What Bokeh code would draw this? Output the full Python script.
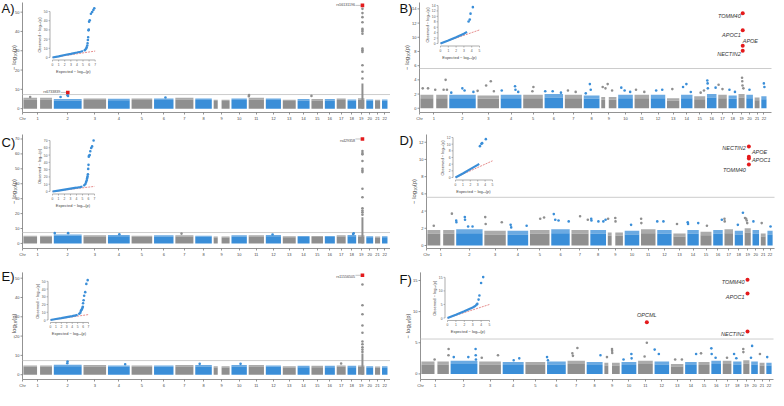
import math
from bokeh.plotting import figure
from bokeh.layouts import column, row
from bokeh.models import Range1d, FixedTicker
from bokeh.embed import file_html
from bokeh.resources import INLINE
from bokeh.core.properties import value

FONT = "Liberation Sans"
GRAY = "#8f8f8f"
BLUE = "#3a8ed8"
RED = "#e41a1c"
AXC = "#777777"

# ---------------- data ----------------
CHROM_NAMES = [str(i) for i in range(1, 23)]
CHR_LEN = [249, 243, 198, 191, 181, 171, 159, 146, 141, 136, 135, 134,
           115, 107, 103, 90, 81, 78, 59, 63, 48, 51]          # Mb
CENTROMERE_GAP = {1: (121, 143), 9: (39, 68)}
GAP = 12

# dense-mass height per chromosome
A_MASS = [5.6, 5.0, 5.3, 5.1, 5.2, 5.3, 5.6, 5.2, 4.6, 5.3, 5.6, 5.2, 4.6, 5.0, 5.0, 5.0, 5.2, 4.8, 5.4, 4.8, 4.6, 4.8]
B_MASS = [1.9, 1.9, 1.8, 1.9, 1.9, 2.0, 1.9, 1.8, 1.6, 1.9, 1.9, 1.9, 1.4, 1.9, 1.7, 2.0, 1.9, 1.8, 2.0, 1.9, 1.5, 1.7]
C_MASS = [5.2, 6.0, 5.4, 5.6, 5.2, 5.4, 5.4, 5.2, 4.6, 5.4, 5.4, 5.6, 4.8, 5.0, 5.0, 5.0, 5.4, 5.6, 5.4, 4.8, 4.6, 4.8]
D_MASS = [1.8, 1.9, 1.7, 1.7, 1.8, 1.9, 1.8, 1.8, 1.5, 1.7, 1.9, 1.8, 1.4, 1.8, 1.6, 1.8, 1.9, 1.7, 2.0, 1.8, 1.4, 1.7]
E_MASS = [4.8, 5.2, 5.0, 4.8, 4.8, 4.8, 5.0, 5.0, 4.4, 5.0, 5.0, 4.8, 4.4, 4.6, 4.6, 4.6, 4.8, 4.6, 4.8, 4.4, 4.2, 4.4]
F_MASS = [2.0, 2.1, 2.0, 1.9, 1.9, 2.0, 2.1, 1.9, 1.8, 1.9, 2.1, 2.0, 1.6, 1.9, 1.9, 2.1, 2.1, 2.0, 2.2, 2.0, 1.8, 1.8]

# scattered points above the mass: (chromosome, position Mb, -log10 p)
A_PEAKS = [(2, 120, 7.0), (2, 124, 6.6), (2, 60, 6.0), (11, 5, 7.0), (11, 3, 6.4), (15, 2, 6.6), (1, 60, 6.0), (6, 100, 5.8)]
C_PEAKS = [(2, 10, 6.9), (2, 125, 6.9), (4, 100, 6.2), (7, 55, 6.6), (18, 50, 6.3), (18, 55, 6.8), (12, 60, 6.0)]
E_PEAKS = [(2, 120, 6.8), (2, 118, 5.9), (17, 40, 5.8), (10, 80, 5.6), (8, 40, 5.6), (4, 150, 5.4)]
B_PEAKS = [(1, 23, 2.8), (1, 71, 2.8), (1, 136, 2.6), (1, 212, 2.6), (1, 230, 4.0), (1, 242, 2.6),
           (2, 20, 2.2), (2, 120, 2.8), (2, 140, 2.5), (2, 220, 2.3),
           (3, 3, 2.45), (3, 80, 3.2), (3, 122, 3.8), (3, 150, 2.4),
           (4, 11, 2.5), (4, 131, 3.1), (4, 135, 2.6), (4, 160, 2.3),
           (5, 85, 2.4), (5, 94, 3.0), (6, 8, 2.4), (6, 75, 2.4), (6, 150, 2.2),
           (7, 30, 2.5), (7, 100, 2.3), (8, 20, 2.1), (8, 57, 3.4), (8, 65, 2.6),
           (9, 15, 3.0), (9, 40, 2.8), (9, 60, 3.4), (9, 100, 2.5),
           (10, 30, 2.9), (10, 60, 2.5), (10, 110, 2.3), (11, 15, 2.6), (11, 90, 2.3),
           (12, 50, 2.5), (12, 105, 2.6), (13, 50, 2.7), (14, 20, 3.0), (14, 50, 3.4), (14, 90, 2.3),
           (15, 60, 2.2), (15, 90, 2.5), (16, 5, 3.9), (16, 8, 3.5), (16, 10, 2.8), (16, 80, 2.9),
           (17, 5, 3.3), (17, 40, 2.7), (18, 10, 2.6), (18, 60, 2.3),
           (19, 34, 4.3), (19, 36, 3.8), (19, 38, 3.2), (19, 46, 2.8), (20, 30, 2.6), (22, 25, 3.5), (22, 30, 3.0)]
D_PEAKS = [(1, 60, 2.3), (1, 224, 3.7), (2, 2, 2.9), (2, 4, 2.7), (2, 80, 3.3), (2, 82, 3.0), (2, 110, 2.2), (2, 150, 2.2),
           (3, 10, 3.3), (3, 14, 2.5), (3, 160, 2.7), (4, 30, 2.4), (4, 35, 2.1), (4, 175, 2.3),
           (5, 95, 3.1), (5, 130, 3.25), (6, 25, 3.65), (6, 38, 3.0), (6, 68, 2.9), (6, 160, 2.8),
           (7, 80, 3.4), (7, 150, 3.0), (8, 10, 3.1), (8, 12, 2.9), (8, 75, 2.8), (8, 120, 2.8), (8, 140, 3.0),
           (9, 5, 3.1), (9, 70, 3.2), (9, 72, 2.8), (10, 60, 2.4), (11, 3, 3.1), (11, 5, 2.6),
           (12, 2, 2.8), (12, 58, 2.8), (13, 35, 2.5), (14, 5, 2.7), (14, 8, 2.5), (14, 100, 2.6),
           (15, 60, 2.3), (16, 80, 3.0), (17, 2, 3.1), (17, 4, 2.8), (18, 30, 2.4), (18, 76, 3.8),
           (19, 5, 3.2), (19, 15, 3.1), (19, 20, 2.9), (19, 25, 2.6), (20, 10, 2.8), (21, 10, 2.6), (22, 30, 2.2)]
F_PEAKS = [(1, 245, 4.0), (1, 244, 3.0), (1, 120, 2.3), (2, 30, 2.7), (2, 160, 2.7), (2, 225, 4.0), (2, 226, 3.0), (2, 228, 2.3),
           (3, 25, 2.6), (3, 170, 3.0), (4, 100, 2.2), (4, 150, 2.5), (6, 2, 2.7), (6, 10, 2.2),
           (7, 45, 3.3), (7, 50, 2.9), (7, 90, 4.15), (8, 125, 3.0),
           (9, 25, 2.7), (9, 70, 4.0), (9, 71, 3.7), (9, 72, 3.35), (10, 20, 2.3), (10, 90, 3.2), (10, 92, 2.5),
           (11, 80, 5.0), (11, 60, 2.8), (12, 3, 3.9), (12, 40, 3.2), (13, 40, 2.3), (13, 100, 2.3),
           (14, 100, 3.2), (15, 25, 3.3), (16, 2, 4.1), (16, 5, 3.2), (16, 40, 2.6), (17, 40, 2.6),
           (18, 10, 3.2), (18, 30, 2.5), (19, 2, 4.0), (19, 3, 3.5), (20, 0, 2.6), (20, 10, 4.5), (21, 5, 3.2), (22, 10, 2.7)]

# chr19 (APOE region) column of SNPs in A, C, E
A_STACK = [51.7, 49.5, 47.4, 44.8, 41.4, 40.7, 40.0, 38.8, 31.1, 30.3, 29.4, 22.5, 19.1, 15.6]
A_STACK_TOP = 13.0
C_STACK = [61.9, 60.6, 59.7, 55.2, 50.0, 48.9, 47.8, 36.6, 31.0, 23.6, 22.0, 20.9, 19.3]
C_STACK_TOP = 17.5
E_STACK = [46.7, 36.0, 31.3, 25.5, 21.7, 17.2, 15.8, 14.2, 13.0, 11.8]
E_STACK_TOP = 11.0

# highlighted hits: (chromosome, position Mb, -log10 p, label)
A_HITS = [(19, 40, 53.5, "rs56131196"), (2, 122, 8.4, "rs6733839")]
C_HITS = [(19, 40, 70.0, "rs429358")]
E_HITS = [(19, 40, 51.5, "rs11556505")]
B_HITS = [(19, 40, 13.4, "TOMM40"), (19, 40, 11.0, "APOC1"), (19, 40, 8.8, "APOE"), (19, 40, 8.1, "NECTIN2")]
D_HITS = [(19, 40, 11.5, "NECTIN2"), (19, 40, 10.3, "APOE"), (19, 40, 10.1, "APOC1"), (19, 40, 9.4, "TOMM40")]
F_HITS = [(19, 40, 15.1, "TOMM40"), (19, 40, 12.9, "APOC1"), (11, 80, 8.3, "OPCML"), (19, 40, 6.8, "NECTIN2")]

A_YTICKS = [0, 10, 20, 30, 40, 50]
B_YTICKS = [0, 2, 4, 6, 8, 10, 12, 14]
C_YTICKS = [0, 10, 20, 30, 40, 50, 60, 70]
D_YTICKS = [0, 2, 4, 6, 8, 10, 12]
E_YTICKS = [0, 10, 20, 30, 40, 50]
F_YTICKS = [0, 5, 10, 15]
SNP_THRESHOLD = 7.3
GENE_THRESHOLD = 5.6

# QQ insets: expected vs observed -log10 p
A_QQ_BODY_X = [0, 1, 2, 3, 4, 4.6, 5.0]
A_QQ_BODY_Y = [0, 1.3, 2.7, 4.0, 5.4, 6.3, 7.0]
A_QQ_TAIL_X = [5.3, 5.5, 5.6, 5.7, 5.75, 5.8, 5.85, 5.9, 5.95, 6.0, 6.1, 6.3, 6.5, 6.7, 6.85]
A_QQ_TAIL_Y = [8.0, 9.5, 11, 13, 15.5, 19, 22, 29.5, 30.5, 38.8, 40.5, 47.5, 49.5, 51.7, 53.5]
C_QQ_BODY_X = [0, 1, 2, 3, 4, 4.6, 5.0]
C_QQ_BODY_Y = [0, 1.3, 2.6, 3.9, 5.2, 6.1, 6.8]
C_QQ_TAIL_X = [5.3, 5.5, 5.6, 5.7, 5.75, 5.8, 5.85, 5.9, 5.95, 6.0, 6.05, 6.1, 6.2, 6.3, 6.45, 6.6, 6.85]
C_QQ_TAIL_Y = [8.5, 10.5, 13, 15, 17.5, 19.3, 21, 23.6, 31, 36.6, 47.8, 48.9, 50, 55.2, 59.7, 61.9, 70]
E_QQ_BODY_X = [0, 1, 2, 3, 4, 4.6, 5.0]
E_QQ_BODY_Y = [0, 1.3, 2.5, 3.8, 5.1, 5.9, 6.6]
E_QQ_TAIL_X = [5.3, 5.5, 5.6, 5.7, 5.8, 5.9, 5.95, 6.0, 6.1, 6.2, 6.4, 6.6, 6.85]
E_QQ_TAIL_Y = [8.0, 9.5, 11.8, 13, 14.2, 15.8, 17.2, 21.7, 25.5, 31.3, 36, 46.7, 51.5]
B_QQ_BODY_X = [0, 1, 2, 3, 3.4]
B_QQ_BODY_Y = [0, 1.1, 2.3, 3.6, 4.3]
B_QQ_TAIL_X = [3.6, 3.75, 3.85, 4.15]
B_QQ_TAIL_Y = [8.1, 8.8, 11.0, 13.4]
D_QQ_BODY_X = [0, 1, 2, 3, 3.2]
D_QQ_BODY_Y = [0, 1.2, 2.5, 3.8, 4.1]
D_QQ_TAIL_X = [3.3, 3.5, 3.6, 4.1]
D_QQ_TAIL_Y = [9.4, 10.1, 10.3, 11.5]
F_QQ_BODY_X = [0, 1, 2, 3, 3.4]
F_QQ_BODY_Y = [0, 1.2, 2.5, 3.9, 4.6]
F_QQ_TAIL_X = [3.45, 3.55, 3.7, 3.8, 4.0, 4.25]
F_QQ_TAIL_Y = [4.9, 5.2, 6.8, 8.3, 12.9, 15.1]
SNP_QQ_XTICKS = [0, 1, 2, 3, 4, 5, 6, 7]
GENE_QQ_XTICKS = [0, 1, 2, 3, 4, 5]

# ---------------- genome coordinates ----------------
OFFSETS = []
_acc = GAP / 2
for _L in CHR_LEN:
    OFFSETS.append(_acc)
    _acc += _L + GAP
CENTERS = [int(round(o + L / 2)) for o, L in zip(OFFSETS, CHR_LEN)]


def chr_color(c):
    return GRAY if c % 2 == 1 else BLUE


def gpos(c, pos):
    return OFFSETS[c - 1] + pos


# ---------------- panel layout specs (absolute page pixels) ----------------
# box = (y-axis x, right end of genome axis, top of plotted range, x-axis y)
PANELS = {
    "A": dict(fig=(8, 8, 390, 130), box=(30, 398, 10, 120), xend=3161, yr=(-2, 55), ylab=9,
              mass=A_MASS, solid=0.85, peaks=A_PEAKS, stack=A_STACK, stack_top=A_STACK_TOP, hits=A_HITS,
              yticks=A_YTICKS, thr=SNP_THRESHOLD, letter_px=(9, 8),
              qq=(A_QQ_BODY_X, A_QQ_BODY_Y, A_QQ_TAIL_X, A_QQ_TAIL_Y), qq_xt=SNP_QQ_XTICKS,
              qq_yt=[0, 10, 20, 30, 40, 50], qq_px=((60, 102.7), (65, 19)),
              label_style=[("right", -7, 0), ("right", -7, 0)], gene=False),
    "B": dict(fig=(398, 8, 386, 130), box=(427, 779, 10, 120), xend=3180, yr=(-0.6, 14.9), ylab=13,
              mass=B_MASS, solid=0.75, peaks=B_PEAKS, stack=None, hits=B_HITS,
              yticks=B_YTICKS, thr=GENE_THRESHOLD, letter_px=(407, 8),
              qq=(B_QQ_BODY_X, B_QQ_BODY_Y, B_QQ_TAIL_X, B_QQ_TAIL_Y), qq_xt=GENE_QQ_XTICKS,
              qq_yt=[0, 2, 4, 6, 8, 10, 12, 14], qq_px=((448, 487), (51, 13)),
              label_style=[("right", -2, -3), ("right", -2, -5), ("left", 0, 5), ("right", -2, -3)], gene=True),
    "C": dict(fig=(8, 138, 390, 130), box=(30, 398, 142, 256), xend=3161, yr=(-3.4, 73), ylab=9,
              mass=C_MASS, solid=0.85, peaks=C_PEAKS, stack=C_STACK, stack_top=C_STACK_TOP, hits=C_HITS,
              yticks=C_YTICKS, thr=SNP_THRESHOLD, letter_px=(9, 142),
              qq=(C_QQ_BODY_X, C_QQ_BODY_Y, C_QQ_TAIL_X, C_QQ_TAIL_Y), qq_xt=SNP_QQ_XTICKS,
              qq_yt=[0, 10, 20, 30, 40, 50, 60, 70], qq_px=((60, 102), (199, 148)),
              label_style=[("right", -7, -2)], gene=False),
    "D": dict(fig=(398, 138, 386, 130), box=(434, 782, 142, 256), xend=3152, yr=(-0.35, 12.9), ylab=13,
              mass=D_MASS, solid=0.75, peaks=D_PEAKS, stack=None, hits=D_HITS,
              yticks=D_YTICKS, thr=GENE_THRESHOLD, letter_px=(407, 140),
              qq=(D_QQ_BODY_X, D_QQ_BODY_Y, D_QQ_TAIL_X, D_QQ_TAIL_Y), qq_xt=GENE_QQ_XTICKS,
              qq_yt=[0, 2, 4, 6, 8, 10, 12], qq_px=((463, 500), (185, 145)),
              label_style=[("right", -3, -1), ("left", 3, 5), ("left", 3, -1), ("right", -3, -5)], gene=True),
    "E": dict(fig=(8, 268, 390, 130), box=(30, 398, 280, 388), xend=3161, yr=(-2.5, 53), ylab=9,
              mass=E_MASS, solid=0.85, peaks=E_PEAKS, stack=E_STACK, stack_top=E_STACK_TOP, hits=E_HITS,
              yticks=E_YTICKS, thr=SNP_THRESHOLD, letter_px=(9, 277),
              qq=(E_QQ_BODY_X, E_QQ_BODY_Y, E_QQ_TAIL_X, E_QQ_TAIL_Y), qq_xt=SNP_QQ_XTICKS,
              qq_yt=[0, 10, 20, 30, 40, 50], qq_px=((58, 96), (328, 289)),
              label_style=[("right", -7, -2)], gene=False),
    "F": dict(fig=(398, 268, 386, 130), box=(428, 781, 280, 388), xend=3152, yr=(-0.9, 16.3), ylab=13,
              mass=F_MASS, solid=0.75, peaks=F_PEAKS, stack=None, hits=F_HITS,
              yticks=F_YTICKS, thr=GENE_THRESHOLD, letter_px=(407, 280),
              qq=(F_QQ_BODY_X, F_QQ_BODY_Y, F_QQ_TAIL_X, F_QQ_TAIL_Y), qq_xt=GENE_QQ_XTICKS,
              qq_yt=[0, 5, 10, 15], qq_px=((455, 497), (326, 285)),
              label_style=[("right", -3, -2), ("right", -3, -3), ("center", 0, 7), ("right", -3, -2)], gene=True),
}


def make_panel(name):
    S = PANELS[name]
    left, top, W, H = S["fig"]
    ax0, ax1, ay0, ay1 = S["box"]
    y0, y1 = S["yr"]
    sx = (ax1 - ax0) / S["xend"]          # px per Mb
    sy = (ay1 - ay0) / (y1 - y0)          # px per unit
    bb = top + H - ay1
    fx0, fx1, fy0, fy1 = left, left + W, top, ay1     # plotting frame (absolute px)
    xr = ((fx0 - ax0) / sx, (fx1 - ax0) / sx)
    yr = (y0, y0 + (ay1 - fy0) / sy)

    p = figure(width=W, height=H, x_range=Range1d(*xr), y_range=Range1d(*yr),
               output_backend="svg", toolbar_location=None, y_axis_location=None,
               min_border_left=0, min_border_right=0, min_border_top=0, min_border_bottom=bb)
    p.outline_line_color = None
    p.xgrid.visible = False
    p.ygrid.visible = False
    ax = p.xaxis[0]
    ax.bounds = (0, S["xend"])
    ax.axis_line_color = AXC
    ax.axis_line_width = 0.8
    ax.major_tick_line_color = AXC
    ax.major_tick_line_width = 0.8
    ax.major_tick_out = 2
    ax.major_tick_in = 0
    ax.minor_tick_line_color = None
    ax.major_label_text_font = FONT
    ax.major_label_text_font_size = "4px"
    ax.major_label_text_color = "#444444"
    ax.major_label_standoff = 1
    ax.ticker = FixedTicker(ticks=[0] + CENTERS)
    ov = {0: "Chr"}
    for i, c in enumerate(CENTERS):
        ov[c] = CHROM_NAMES[i]
    ax.major_label_overrides = ov

    # y axis (drawn in data space at genome position 0)
    yt = S["yticks"]
    n = len(yt)
    p.segment(x0=[0], y0=[y0], x1=[0], y1=[y1], line_color=AXC, line_width=0.8)
    p.segment(x0=[0] * n, y0=yt, x1=[-2 / sx] * n, y1=yt, line_color=AXC, line_width=0.8)
    p.text(x=[-3 / sx] * n, y=yt, text=[str(t) for t in yt], text_align="right", text_baseline="middle",
           text_font=value(FONT), text_font_size="4px", text_color="#444444")
    p.text(x=[-S["ylab"] / sx], y=[(y0 + y1) / 2], text=["− log₁₀(p)"], angle=math.pi / 2,
           text_align="center", text_baseline="middle", text_font=value(FONT), text_font_size="6px",
           text_color="#444444")

    # significance threshold, from the y axis to the genome end
    p.segment(x0=[0], y0=[S["thr"]], x1=[S["xend"]], y1=[S["thr"]], line_color="#c6c6c6", line_width=0.9)

    # dense mass of points per chromosome
    L_, R_, T_, M_, C_ = [], [], [], [], []
    for i, h in enumerate(S["mass"]):
        c = i + 1
        segs = [(0, CHR_LEN[i])]
        if c in CENTROMERE_GAP:
            a, b = CENTROMERE_GAP[c]
            segs = [(0, a), (b, CHR_LEN[i])]
        for s, e in segs:
            L_.append(OFFSETS[i] + s + 2)
            R_.append(OFFSETS[i] + e - 2)
            T_.append(h)
            M_.append(h * S["solid"])
            C_.append(chr_color(c))
    p.quad(left=L_, right=R_, bottom=0, top=M_, fill_color=C_, line_color=None)
    p.quad(left=L_, right=R_, bottom=M_, top=T_, fill_color=C_, fill_alpha=0.75, line_color=None)

    # scattered points
    px_ = [gpos(c, pos) for c, pos, v in S["peaks"]]
    py_ = [v for c, pos, v in S["peaks"]]
    pc_ = [chr_color(c) for c, pos, v in S["peaks"]]
    p.scatter(x=px_, y=py_, size=2.6, fill_color=pc_, line_color=None)

    # chr19 column
    if S["stack"]:
        hc, hp = S["hits"][0][0], S["hits"][0][1]
        xs = gpos(hc, hp)
        w = 1.0 / sx
        p.quad(left=[xs - w], right=[xs + w], bottom=[0], top=[S["stack_top"]], fill_color=GRAY, line_color=None)
        p.scatter(x=[xs] * len(S["stack"]), y=S["stack"], size=2.6, fill_color=GRAY, line_color=None)

    # hits
    hx = [gpos(c, pos) for c, pos, v, t in S["hits"]]
    hy = [v for c, pos, v, t in S["hits"]]
    p.scatter(x=hx, y=hy, size=4 if S["gene"] else 3.6, marker="circle" if S["gene"] else "square",
              fill_color=RED, line_color=None)
    for (c, pos, v, t), (al, dxp, dyp) in zip(S["hits"], S["label_style"]):
        x = gpos(c, pos)
        if S["gene"]:
            p.text(x=[x + dxp / sx], y=[v + dyp / sy], text=[t], text_align=al, text_baseline="middle",
                   text_font=value(FONT), text_font_size="5.5px", text_font_style="italic",
                   text_color="#333333")
        else:
            p.segment(x0=[x - 1.5 / sx], y0=[v], x1=[x + dxp / sx], y1=[v], line_color="#888888", line_width=0.5)
            p.text(x=[x + (dxp - 0.5) / sx], y=[v + dyp / sy], text=[t], text_align="right",
                   text_baseline="middle", text_font=value(FONT), text_font_size="3.6px",
                   text_color="#444444")

    # ---------- QQ inset ----------
    (xa, xb), (ya, yb) = S["qq_px"]
    xmax = S["qq_xt"][-1]
    ymax = S["qq_yt"][-1]
    kx = (xb - xa) / xmax
    ky = (ya - yb) / ymax
    p.extra_x_ranges = {"qx": Range1d(-(xa - fx0) / kx, (fx1 - xa) / kx)}
    p.extra_y_ranges = {"qy": Range1d(-(fy1 - ya) / ky, (ya - fy0) / ky)}
    kw = dict(x_range_name="qx", y_range_name="qy")
    qax_x = -2.5 / kx
    qax_y = -2.5 / ky
    xt = S["qq_xt"]
    qyt = S["qq_yt"]
    p.segment(x0=[qax_x], y0=[0], x1=[qax_x], y1=[ymax], line_color=AXC, line_width=0.6, **kw)
    p.segment(x0=[0], y0=[qax_y], x1=[xmax], y1=[qax_y], line_color=AXC, line_width=0.6, **kw)
    p.segment(x0=xt, y0=[qax_y] * len(xt), x1=xt, y1=[qax_y - 1.5 / ky] * len(xt),
              line_color=AXC, line_width=0.5, **kw)
    p.segment(x0=[qax_x] * len(qyt), y0=qyt, x1=[qax_x - 1.5 / kx] * len(qyt), y1=qyt,
              line_color=AXC, line_width=0.5, **kw)
    p.text(x=xt, y=[qax_y - 2.5 / ky] * len(xt), text=[str(t) for t in xt], text_align="center",
           text_baseline="top", text_font=value(FONT), text_font_size="3.3px", text_color="#555555", **kw)
    p.text(x=[qax_x - 2.5 / kx] * len(qyt), y=qyt, text=[str(t) for t in qyt], text_align="right",
           text_baseline="middle", text_font=value(FONT), text_font_size="3.3px", text_color="#555555", **kw)
    p.text(x=[xmax / 2], y=[qax_y - 8.5 / ky], text=["Expected  − log₁₀(p)"], text_align="center",
           text_baseline="top", text_font=value(FONT), text_font_size="4px", text_color="#444444", **kw)
    p.text(x=[qax_x - 11 / kx], y=[ymax / 2], text=["Observed  − log₁₀(p)"], text_align="center",
           text_baseline="middle", angle=math.pi / 2, text_font=value(FONT), text_font_size="4px",
           text_color="#444444", **kw)
    p.line(x=[xt[0], xt[-1]], y=[xt[0], xt[-1]], line_color="#e07070", line_width=0.8, line_dash="2 1", **kw)
    bx, by, tx, ty = S["qq"]
    p.line(x=bx, y=by, line_color=BLUE, line_width=2.2, **kw)
    p.scatter(x=tx, y=ty, size=2.6, fill_color=BLUE, line_color=None, **kw)

    # panel letter
    lx, ly = S["letter_px"]
    p.text(x=[(lx - ax0) / sx], y=[y0 + (ay1 - ly) / sy], text=[name + ")"], text_align="left",
           text_baseline="top", text_font=value(FONT), text_font_size="13px", text_color="#111111")
    return p


layout = column(row(make_panel("A"), make_panel("B")),
                row(make_panel("C"), make_panel("D")),
                row(make_panel("E"), make_panel("F")))

open("out.html", "w").write(file_html(layout, INLINE))
